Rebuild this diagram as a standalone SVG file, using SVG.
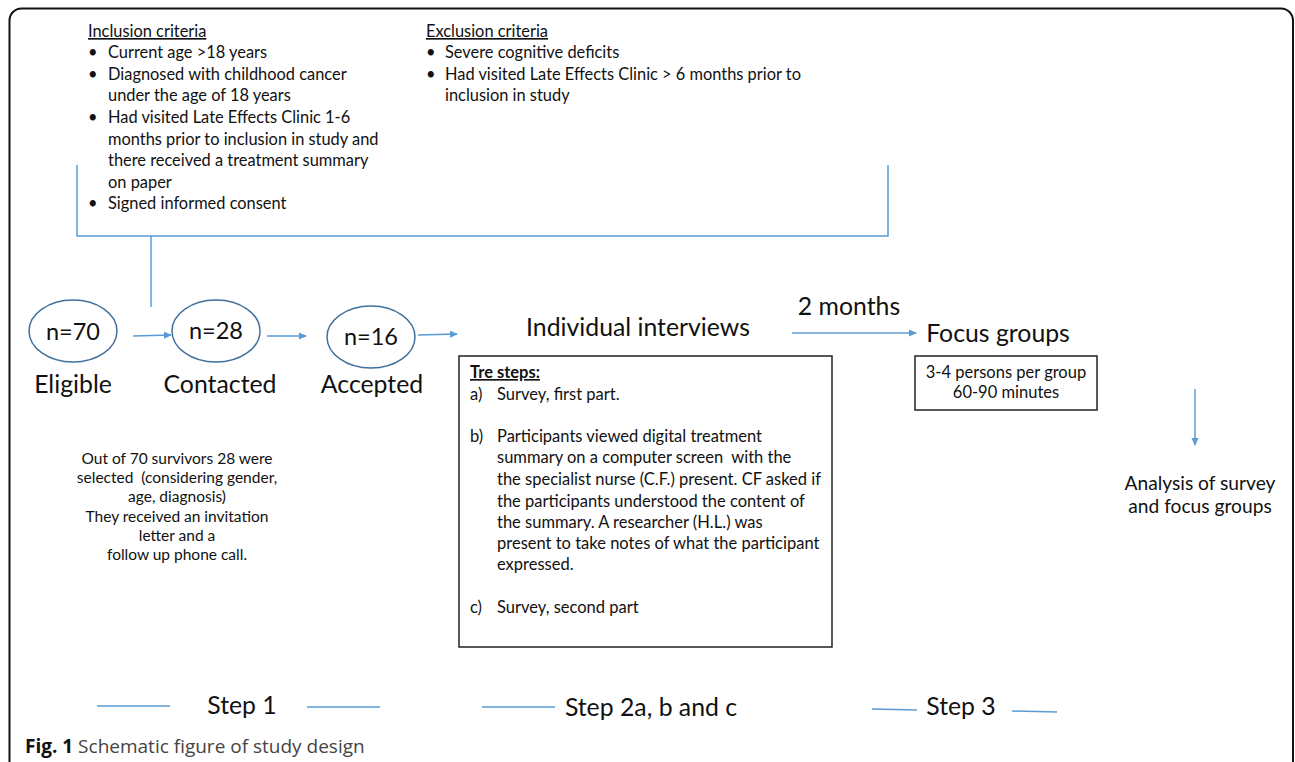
<svg xmlns="http://www.w3.org/2000/svg" width="1295" height="762" viewBox="0 0 1295 762">
<defs>
<marker id="ah" markerWidth="8" markerHeight="8" refX="7" refY="4" orient="auto" markerUnits="userSpaceOnUse">
<path d="M0,0.5 L8,4 L0,7.5 Z" fill="#5b9bd5"/>
</marker>
<style>
text{font-family:Lato,"Open Sans","Liberation Sans",sans-serif;fill:#111}
.crit{font-size:16.4px}
.u{text-decoration:underline}
.big{font-size:24.8px}
.num{font-size:23.5px}
.sm{font-size:15.5px}
.bx{font-size:16.5px}
.ell{fill:none;stroke:#41719c;stroke-width:1.5}
.bl{stroke:#5b9bd5;stroke-width:1.5;fill:none}
.box{fill:none;stroke:#222;stroke-width:1.5}
</style>
</defs>
<rect width="1295" height="762" fill="#fff"/>
<rect x="9.5" y="8.5" width="1283.5" height="780" rx="12" ry="12" fill="none" stroke="#111" stroke-width="2"/>

<g id="criteria">
<text class="crit u" x="88" y="37">Inclusion criteria</text>
<g class="crit">
<text x="88" y="58">•</text><text x="108" y="58">Current age &gt;18 years</text>
<text x="88" y="80">•</text><text x="108" y="80">Diagnosed with childhood cancer</text>
<text x="108" y="101">under the age of 18 years</text>
<text x="88" y="123">•</text><text x="108" y="123">Had visited Late Effects Clinic 1-6</text>
<text x="108" y="145">months prior to inclusion in study and</text>
<text x="108" y="166">there received a treatment summary</text>
<text x="108" y="188">on paper</text>
<text x="88" y="209">•</text><text x="108" y="209">Signed informed consent</text>
</g>
<text class="crit u" x="426" y="37">Exclusion criteria</text>
<g class="crit">
<text x="426" y="58">•</text><text x="445" y="58">Severe cognitive deficits</text>
<text x="426" y="80">•</text><text x="445" y="80">Had visited Late Effects Clinic &gt; 6 months prior to</text>
<text x="445" y="101">inclusion in study</text>
</g>
</g>

<g id="connectors">
<path class="bl" d="M77,165 V236 H888 V165"/>
<path class="bl" d="M151,236 V307"/>
<path class="bl" d="M133,336 L171,335" marker-end="url(#ah)"/>
<path class="bl" d="M267,336 L306,336" marker-end="url(#ah)"/>
<path class="bl" d="M418,335 L457,334" marker-end="url(#ah)"/>
<path class="bl" d="M792,333 L916,333" marker-end="url(#ah)"/>
<path class="bl" d="M1195,389 V445" marker-end="url(#ah)"/>
<path class="bl" d="M97,706 H170 M307,707 H380 M482,707 H555 M872,709 L917,710 M1012,711 L1057,712"/>
</g>

<g id="eligible">
<ellipse class="ell" cx="73" cy="331" rx="44" ry="31"/>
<text class="num" x="73" y="340" text-anchor="middle">n=70</text>
<text class="big" x="73" y="393" text-anchor="middle">Eligible</text>
</g>
<g id="contacted">
<ellipse class="ell" cx="216" cy="331" rx="44" ry="31"/>
<text class="num" x="216" y="339" text-anchor="middle">n=28</text>
<text class="big" x="220" y="393" text-anchor="middle">Contacted</text>
</g>
<g id="accepted">
<ellipse class="ell" cx="371" cy="337" rx="44" ry="31"/>
<text class="num" x="371" y="345" text-anchor="middle">n=16</text>
<text class="big" x="372" y="393" text-anchor="middle">Accepted</text>
</g>

<g id="selection-note" class="sm" text-anchor="middle">
<text x="177" y="464">Out of 70 survivors 28 were</text>
<text x="177" y="483" xml:space="preserve">selected  (considering gender,</text>
<text x="177" y="502">age, diagnosis)</text>
<text x="177" y="522">They received an invitation</text>
<text x="177" y="541">letter and a</text>
<text x="177" y="560">follow up phone call.</text>
</g>

<g id="interviews">
<text class="big" x="638" y="336" text-anchor="middle">Individual interviews</text>
<rect class="box" x="459" y="356" width="373" height="291"/>
<g class="bx">
<text x="470" y="378" font-weight="bold" class="u">Tre steps:</text>
<text x="470" y="400">a)</text><text x="497" y="400">Survey, first part.</text>
<text x="470" y="442">b)</text><text x="497" y="442">Participants viewed digital treatment</text>
<text x="497" y="463" xml:space="preserve">summary on a computer screen  with the</text>
<text x="497" y="485">the specialist nurse (C.F.) present. CF asked if</text>
<text x="497" y="507">the participants understood the content of</text>
<text x="497" y="528">the summary. A researcher (H.L.) was</text>
<text x="497" y="549">present to take notes of what the participant</text>
<text x="497" y="570">expressed.</text>
<text x="470" y="613">c)</text><text x="497" y="613">Survey, second part</text>
</g>
</g>

<g id="interval">
<text class="big" x="849" y="315" text-anchor="middle">2 months</text>
</g>

<g id="focus-groups">
<text class="big" x="998" y="342" text-anchor="middle">Focus groups</text>
<rect class="box" x="915" y="356" width="182" height="54"/>
<text class="bx" x="1006" y="378" text-anchor="middle">3-4 persons per group</text>
<text class="bx" x="1006" y="398" text-anchor="middle">60-90 minutes</text>
</g>

<g id="analysis">
<text x="1200" y="490" font-size="19.2" text-anchor="middle">Analysis of survey</text>
<text x="1200" y="513" font-size="19.2" text-anchor="middle">and focus groups</text>
</g>

<g id="steps">
<text class="big" x="242" y="714" text-anchor="middle">Step 1</text>
<text class="big" x="651" y="716" text-anchor="middle">Step 2a, b and c</text>
<text class="big" x="961" y="715" text-anchor="middle">Step 3</text>
</g>

<g id="caption">
<text x="25" y="753" font-size="19" style="font-family:'Open Sans','Liberation Sans',sans-serif"><tspan font-weight="bold" fill="#111">Fig. 1</tspan><tspan fill="#444"> Schematic figure of study design</tspan></text>
</g>
</svg>
